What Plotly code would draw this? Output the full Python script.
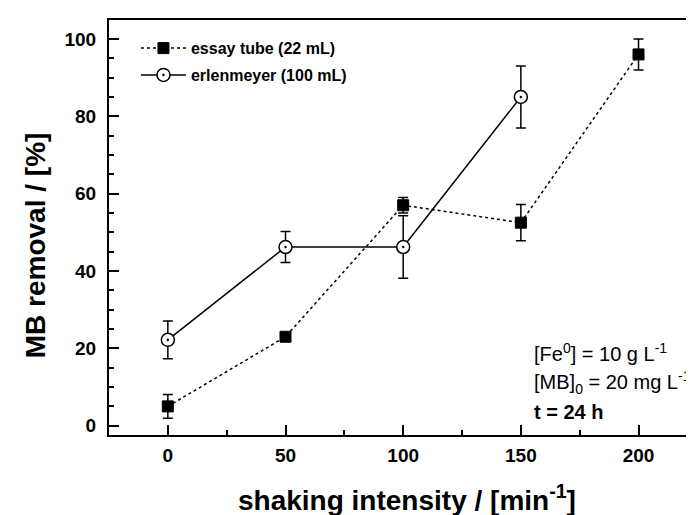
import plotly.graph_objects as go

# Data
shaking = [0, 50, 100, 150, 200]
tube_removal = [5.0, 23.0, 57.0, 52.5, 96.0]
tube_err = [3.1, 1.0, 2.0, 4.7, 4.0]

erl_shaking = [0, 50, 100, 150]
erl_removal = [22.2, 46.2, 46.2, 85.0]
erl_err = [4.9, 4.0, 8.1, 8.0]

x_ticks = [0, 50, 100, 150, 200]
y_ticks = [0, 20, 40, 60, 80, 100]

FONT = "Arial, Liberation Sans, sans-serif"

fig = go.Figure()
fig.add_trace(go.Scatter(
    x=shaking, y=tube_removal, name="<b>essay tube (22 mL)</b>",
    mode="lines+markers", legendgroup="a",
    line=dict(color="black", width=1.5, dash="dot"),
    marker=dict(symbol="square", size=11, color="black", line=dict(color="black", width=1)),
    error_y=dict(type="data", array=tube_err, visible=True, color="black", thickness=1.5, width=5),
))
fig.add_trace(go.Scatter(
    x=erl_shaking, y=erl_removal, name="<b>erlenmeyer (100 mL)</b>",
    mode="lines+markers", legendgroup="b",
    line=dict(color="black", width=1.5),
    marker=dict(symbol="circle-dot", size=13, color="white", line=dict(color="black", width=1.5)),
    error_y=dict(type="data", array=erl_err, visible=True, color="black", thickness=1.5, width=5),
))

axis_common = dict(
    showline=True, linecolor="black", linewidth=2, mirror=True,
    ticks="inside", ticklen=10, tickwidth=1.5, tickcolor="black",
    showgrid=False, zeroline=False,
    tickfont=dict(family=FONT, size=19, color="black", weight="bold"),
)

fig.update_xaxes(
    range=[-25, 224], tickvals=x_ticks, ticklabelstandoff=2,
    minor=dict(dtick=25, tick0=0, ticks="inside", ticklen=5, tickwidth=1.5, tickcolor="black"),
    **axis_common,
)
fig.update_yaxes(
    range=[-2.4, 104.9], tickvals=y_ticks, ticklabelstandoff=7,
    minor=dict(dtick=5, tick0=0, ticks="inside", ticklen=5, tickwidth=1.5, tickcolor="black"),
    **axis_common,
)

title_font = dict(family=FONT, size=28, color="black")
fig.add_annotation(xref="paper", yref="paper", x=(400 - 101) / 588, y=(427 - 490) / 415,
                   xanchor="center", yanchor="middle", showarrow=False,
                   text="<b>shaking intensity / [min<sup>-1</sup>]</b>", font=title_font)
fig.add_annotation(xref="paper", yref="paper", x=(27 - 101) / 588, y=(427 - 237) / 415,
                   xanchor="center", yanchor="middle", showarrow=False, textangle=-90,
                   text="<b>MB removal / [%]</b>", font=title_font)

ann_font = dict(family=FONT, size=20, color="black")
fig.add_annotation(xref="paper", yref="paper", x=0.722, y=0.1976, xanchor="left", yanchor="middle",
                   text="[Fe<sup>0</sup>] = 10 g L<sup>-1</sup>", showarrow=False, font=ann_font)
fig.add_annotation(xref="paper", yref="paper", x=0.722, y=0.1265, xanchor="left", yanchor="middle",
                   text="[MB]<sub>0</sub> = 20 mg L<sup>-1</sup>", showarrow=False, font=ann_font)
fig.add_annotation(xref="paper", yref="paper", x=0.722, y=0.0554, xanchor="left", yanchor="middle",
                   text="<b>t = 24 h</b>", showarrow=False, font=ann_font)

fig.update_layout(
    width=694, height=515,
    margin=dict(l=101, r=5, t=12, b=88),
    paper_bgcolor="white", plot_bgcolor="white",
    font=dict(family=FONT, color="black"),
    showlegend=True,
    legend=dict(x=0.046, y=0.973, xanchor="left", yanchor="top",
                bgcolor="rgba(0,0,0,0)", borderwidth=0,
                font=dict(family=FONT, size=16, color="black"),
                traceorder="grouped", tracegroupgap=3, itemwidth=45),
)

fig.write_html("out.html")
